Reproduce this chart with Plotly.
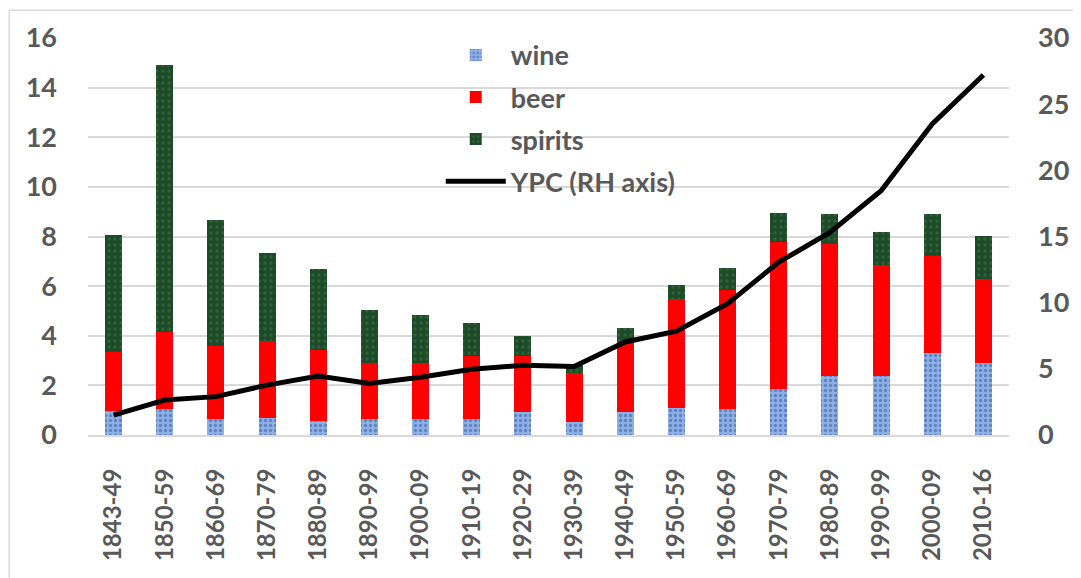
import plotly.graph_objects as go

periods = ["1843-49", "1850-59", "1860-69", "1870-79", "1880-89", "1890-99",
           "1900-09", "1910-19", "1920-29", "1930-39", "1940-49", "1950-59",
           "1960-69", "1970-79", "1980-89", "1990-99", "2000-09", "2010-16"]

wine = [0.98, 1.04, 0.63, 0.70, 0.58, 0.64, 0.64, 0.64, 0.92, 0.54,
        0.92, 1.08, 1.04, 1.85, 2.37, 2.37, 3.29, 2.89]
beer = [2.37, 3.11, 2.96, 3.08, 2.85, 2.26, 2.26, 2.56, 2.28, 1.95,
        2.84, 4.42, 4.82, 5.91, 5.34, 4.50, 3.94, 3.38]
spirits = [4.72, 10.75, 5.08, 3.57, 3.28, 2.12, 1.92, 1.30, 0.77, 0.33,
           0.54, 0.56, 0.89, 1.20, 1.21, 1.32, 1.69, 1.76]
ypc = [1.5, 2.64, 2.9, 3.77, 4.45, 3.9, 4.37, 4.97, 5.27, 5.17,
       7.03, 7.84, 9.92, 13.06, 15.3, 18.46, 23.5, 27.2]

gray = "#595959"

fig = go.Figure()
fig.add_trace(go.Bar(x=periods, y=wine, name="wine", width=0.33, legendgroup="a",
                     marker=dict(color="#8fb0e6", line_width=0,
                                 pattern=dict(shape=".", fgcolor="#2f5597", size=5, solidity=0.35))))
fig.add_trace(go.Bar(x=periods, y=beer, name="beer", width=0.33, legendgroup="b",
                     marker=dict(color="#ff0000", line_width=0)))
fig.add_trace(go.Bar(x=periods, y=spirits, name="spirits", width=0.33, legendgroup="c",
                     marker=dict(color="#1d4a27", line_width=0,
                                 pattern=dict(shape=".", fgcolor="#3e7a4c", size=6, solidity=0.25))))
fig.add_trace(go.Scatter(x=periods, y=ypc, name="YPC (RH axis)", yaxis="y2", legendgroup="d",
                         mode="lines", line=dict(color="black", width=5)))

# page body adds an 8px offset, so the figure is drawn 8px smaller
fig.update_layout(
    width=1073, height=570,
    barmode="stack",
    plot_bgcolor="white", paper_bgcolor="white",
    margin=dict(l=80, r=69, t=29, b=143),
    font=dict(family="Lato", color=gray),
    xaxis=dict(type="category", tickangle=-90, showgrid=False, showline=True,
               linecolor="#d9d9d9", linewidth=2, ticks="",
               tickfont=dict(size=24, color=gray, weight="bold"),
               ticklabelstandoff=22),
    yaxis=dict(range=[0, 16], dtick=2, showgrid=True, gridcolor="#d9d9d9", gridwidth=2,
               zeroline=False, tickfont=dict(size=27, color=gray, weight="bold"),
               ticklabelstandoff=30),
    yaxis2=dict(range=[0, 30], dtick=5, overlaying="y", side="right", showgrid=False,
                zeroline=False, tickfont=dict(size=27, color=gray, weight="bold"),
                ticklabelstandoff=28),
    legend=dict(x=0.383, y=1.018, xanchor="left", yanchor="top", bgcolor="rgba(0,0,0,0)",
                font=dict(size=27, color=gray, weight="bold"), traceorder="grouped",
                tracegroupgap=4, itemwidth=60),
    shapes=[dict(type="rect", xref="paper", yref="paper", x0=-0.0855, x1=1.3, y0=-0.6, y1=1.07,
                 line=dict(color="#d9d9d9", width=1.5))],
)

fig.write_html("out.html")
